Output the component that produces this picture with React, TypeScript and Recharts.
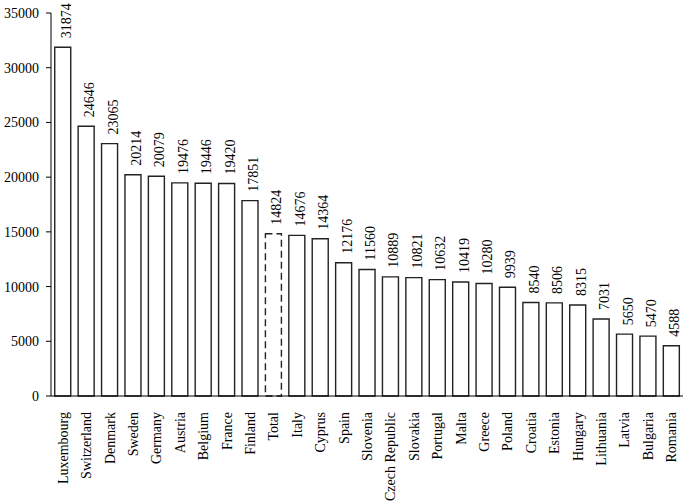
import { Bar, BarChart, LabelList, Rectangle, XAxis, YAxis } from "recharts";

const countries = [
  "Luxembourg", "Switzerland", "Denmark", "Sweden", "Germany", "Austria", "Belgium",
  "France", "Finland", "Total", "Italy", "Cyprus", "Spain", "Slovenia", "Czech Republic",
  "Slovakia", "Portugal", "Malta", "Greece", "Poland", "Croatia", "Estonia", "Hungary",
  "Lithuania", "Latvia", "Bulgaria", "Romania",
];
const values = [
  31874, 24646, 23065, 20214, 20079, 19476, 19446, 19420, 17851, 14824, 14676, 14364,
  12176, 11560, 10889, 10821, 10632, 10419, 10280, 9939, 8540, 8506, 8315, 7031, 5650,
  5470, 4588,
];
const yTicks = [0, 5000, 10000, 15000, 20000, 25000, 30000, 35000];
const dashed = "Total";

const FONT = '"Liberation Serif", "Times New Roman", serif';
const data = countries.map((name, i) => ({ name, value: values[i] }));

function CountryTick({ x, y, payload }: any) {
  return (
    <text
      x={x + 5}
      y={y}
      transform={`rotate(-90, ${x + 5}, ${y})`}
      textAnchor="end"
      fontFamily={FONT}
      fontSize={14}
      fill="#000"
    >
      {payload.value}
    </text>
  );
}

function ValueLabel({ x, y, width, value }: any) {
  const cx = x + width / 2 + 8;
  const cy = y - 9;
  return (
    <text
      x={cx}
      y={cy}
      transform={`rotate(-90, ${cx}, ${cy})`}
      textAnchor="start"
      fontFamily={FONT}
      fontSize={14}
      fill="#000"
    >
      {value}
    </text>
  );
}

function BarShape(props: any) {
  const isDashed = props.payload?.name === dashed;
  return <Rectangle {...props} strokeDasharray={isDashed ? "7 4" : undefined} />;
}

export default function App() {
  return (
    <div style={{ position: "absolute", left: 0, top: 0, background: "#fff" }}>
      <BarChart
        width={685}
        height={502}
        data={data}
        margin={{ top: 13, right: 2, left: 0, bottom: 0 }}
        barCategoryGap="16%"
      >
        <XAxis
          dataKey="name"
          interval={0}
          tickLine={false}
          height={106}
          tickMargin={10}
          stroke="#000"
          tick={<CountryTick />}
        />
        <YAxis
          width={51}
          domain={[0, 35000]}
          ticks={yTicks}
          tickSize={5}
          tickMargin={7}
          stroke="#000"
          tick={{ fontFamily: FONT, fontSize: 14, fill: "#000" }}
        />
        <Bar
          dataKey="value"
          fill="#fff"
          stroke="#222"
          strokeWidth={1.4}
          shape={<BarShape />}
          isAnimationActive={false}
        >
          <LabelList dataKey="value" content={<ValueLabel />} />
        </Bar>
      </BarChart>
    </div>
  );
}
